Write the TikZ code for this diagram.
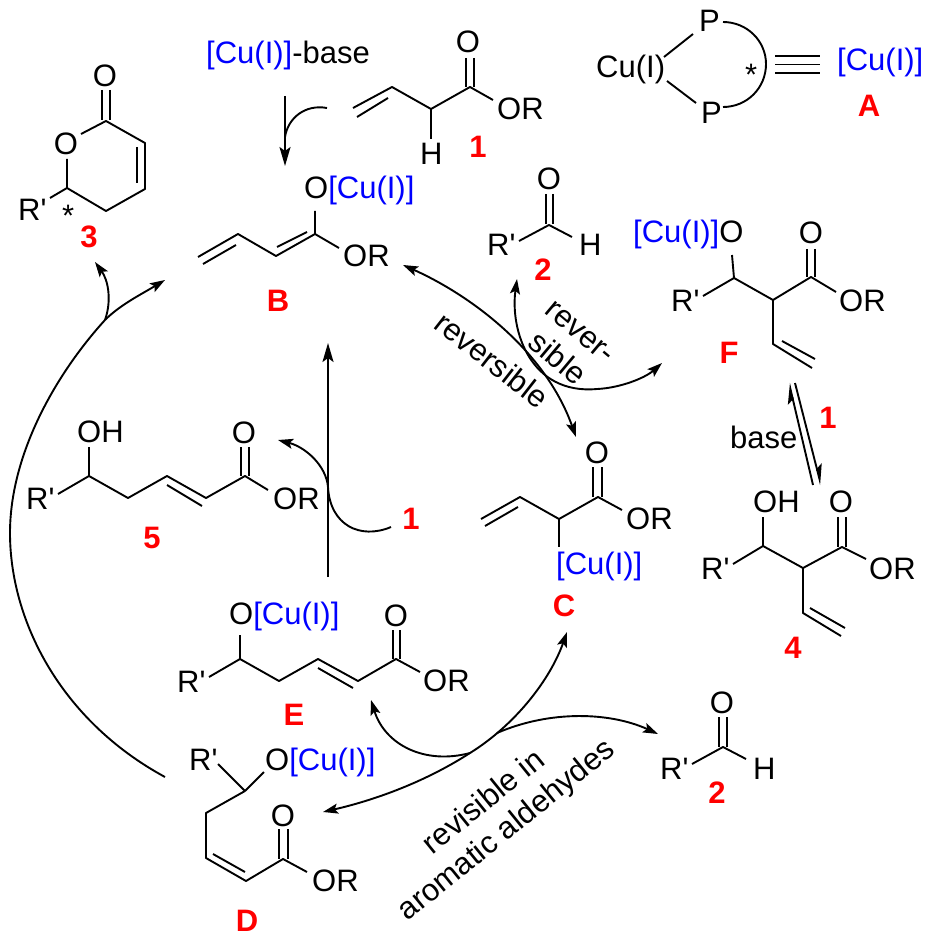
\documentclass[tikz,border=0pt]{standalone}
\usepackage{fontspec}
\usepackage{xcolor}
\usetikzlibrary{arrows.meta}
\newfontfamily\chemfont{Liberation Sans}
\newcommand{\CuL}{\textcolor{blue}{[Cu(I)]}}
\begin{document}
\begin{tikzpicture}[
    x=1pt, y=-1pt,
    % ---------- estilos ----------
    atom/.style={font=\chemfont\fontsize{31}{36}\selectfont, inner sep=0pt, anchor=base west},
    atomc/.style={atom, anchor=base},
    tag/.style={atomc, font=\chemfont\bfseries\fontsize{31}{36}\selectfont, text=red},
    note/.style={atom, anchor=center, align=center},
    bond/.style={line width=1.9pt, line join=round},
    arr/.style={-{Stealth[length=15pt,width=10pt,inset=3pt]}, line width=1.9pt},
    dblarr/.style={{Stealth[length=15pt,width=10pt,inset=3pt]}-{Stealth[length=15pt,width=10pt,inset=3pt]}, line width=1.9pt},
    bigarr/.style={-{Stealth[length=19pt,width=11pt,inset=4pt]}, line width=2.1pt},
    eqarr/.style={-{Stealth[harpoon,length=18pt,width=12pt,inset=4pt]}, line width=1.9pt}
]
\useasboundingbox (0,0) rectangle (932,949);

% ====== Compuesto 3 ======
\node[atomc] (o3a) at (105,87) {O};
\node[atomc] (o3b) at (66,155) {O};
\node[atom] (r3) at (18,221) {R'};
\node[atom] (star3) at (62,227) {*};
\node[tag] (tag3) at (89,248) {3};
\draw[bond] (102,90) -- (102,120) (110,90) -- (110,120);
\draw[bond] (81,134) -- (106,121) -- (145,143) -- (145,189) -- (106,211) -- (67,188) -- (67,159);
\draw[bond] (137,147) -- (137,183);
\draw[bond] (67,188) -- (50,198);

% ====== Base y compuesto 1 ======
\node[atom] (base1) at (206,64) {\CuL-base};
\node[atomc] (o1) at (468,53) {O};
\node[atom] (h1) at (420,165) {H};
\node[atom] (or1) at (497,120) {OR};
\node[tag] (tag1) at (478,158) {1};
\draw[bond] (353,108) -- (392,87) -- (431,109) -- (470,87) -- (493,100);
\draw[bond] (357,117) -- (388,98);
\draw[bond] (431,109) -- (431,139);
\draw[bond] (466,58) -- (466,87) (474,58) -- (474,87);
\coordinate (topS) at (285,96);
\coordinate (topE) at (285,166);
\coordinate (base1S) at (327,108);
\draw[bigarr] (topS) -- (topE);
\draw[bond] (base1S) .. controls (305,104) and (288,118) .. (285,137);

% ====== Ligando A ======
\node[atom] (cuA) at (596,78) {Cu(I)};
\node[atom] (p1) at (699,32) {P};
\node[atom] (p2) at (701,124) {P};
\node[atom] (starA) at (745,86) {*};
\node[atom] (cuEq) at (837,71) {\CuL};
\node[tag] (tagA) at (869,117) {A};
\draw[bond] (664,57) -- (693,34);
\draw[bond] (667,81) -- (696,103);
\draw[bond] (723,22) .. controls (747,22) and (766,41) .. (766,64) .. controls (766,88) and (747,107) .. (723,107);
\foreach \y in {56,64.5,73} {
    \draw[bond] (775,\y) -- (820,\y);
}

% ====== Compuesto B ======
\node[atom] (oB) at (304,199) {O\CuL};
\node[atom] (orB) at (343,267) {OR};
\node[tag] (tagB) at (278,311) {B};
\draw[bond] (315,211) -- (315,234) -- (276,256) -- (238,234) -- (198,257);
\draw[bond] (307,232) -- (277,247);
\draw[bond] (236,245) -- (203,264);
\draw[bond] (315,234) -- (339,248);

% ====== Compuesto 2 (arriba) ======
\node[atomc] (o2a) at (549,190) {O};
\node[atom] (r2a) at (487,256) {R'};
\node[atom] (h2a) at (579,256) {H};
\node[tag] (tag2a) at (543,280) {2};
\draw[bond] (519,241) -- (549,225) -- (572,237);
\draw[bond] (546,194) -- (546,224) (553,194) -- (553,224);

% ====== Compuesto F ======
\node[atom] (oF) at (633,243) {\CuL O};
\node[atomc] (o2F) at (811,244) {O};
\node[atom] (rF) at (671,311) {R'};
\node[atom] (orF) at (839,311) {OR};
\node[tag] (tagF) at (729,363) {F};
\draw[bond] (732,255) -- (734,278) -- (773,300) -- (811,277) -- (836,292);
\draw[bond] (734,278) -- (703,296);
\draw[bond] (807,249) -- (807,277) (815,249) -- (815,277);
\draw[bond] (773,300) -- (773,344) -- (812,368);
\draw[bond] (782,341) -- (815,359);

% ====== Equilibrio F / 4 ======
\node[atom] (baseEq) at (730,448) {base};
\node[tag] (tag1b) at (828,428) {1};
\coordinate (eqUpS) at (813,485);
\coordinate (eqUpE) at (789,383);
\coordinate (eqDnS) at (795,383);
\coordinate (eqDnE) at (821,485);
\draw[eqarr] (eqUpS) -- (eqUpE);
\draw[eqarr] (eqDnS) -- (eqDnE);

% ====== Compuesto 4 ======
\node[atom] (oh4) at (753,512) {OH};
\node[atomc] (o4) at (841,512) {O};
\node[atom] (r4) at (701,579) {R'};
\node[atom] (or4) at (869,579) {OR};
\node[tag] (tag4) at (793,658) {4};
\draw[bond] (763,517) -- (763,546) -- (803,568) -- (842,547) -- (866,559);
\draw[bond] (763,546) -- (733,564);
\draw[bond] (838,517) -- (838,547) (846,517) -- (846,547);
\draw[bond] (803,568) -- (803,613) -- (841,636);
\draw[bond] (810,608) -- (845,628);

% ====== Compuesto C ======
\node[atomc] (oC) at (597,463) {O};
\node[atom] (orC) at (626,529) {OR};
\node[atom] (cuC) at (556,574) {\CuL};
\node[tag] (tagC) at (564,616) {C};
\draw[bond] (481,519) -- (520,497) -- (559,519) -- (598,497) -- (622,510);
\draw[bond] (485,526) -- (518,507);
\draw[bond] (593,467) -- (593,497) (602,467) -- (602,497);
\draw[bond] (559,519) -- (559,547);

% ====== Compuesto 5 ======
\node[atom] (oh5) at (77,442) {OH};
\node[atomc] (o5) at (244,443) {O};
\node[atom] (r5) at (26,509) {R'};
\node[atom] (or5) at (273,509) {OR};
\node[tag] (tag5) at (152,548) {5};
\node[tag] (tag1c) at (411,529) {1};
\draw[bond] (89,447) -- (89,476) -- (128,498) -- (167,476) -- (206,498) -- (245,476) -- (268,490);
\draw[bond] (89,476) -- (58,494);
\draw[bond] (167,485) -- (202,506);
\draw[bond] (241,447) -- (241,476) (249,447) -- (249,476);

% ====== Compuesto E ======
\node[atom] (oE) at (229,624) {O\CuL};
\node[atomc] (o2E) at (396,626) {O};
\node[atom] (rE) at (177,692) {R'};
\node[atom] (orE) at (423,691) {OR};
\node[tag] (tagE) at (294,725) {E};
\draw[bond] (240,635) -- (240,659) -- (279,681) -- (318,659) -- (358,681) -- (396,659) -- (420,672);
\draw[bond] (240,659) -- (209,677);
\draw[bond] (318,668) -- (353,688);
\draw[bond] (393,630) -- (393,659) (400,630) -- (400,659);

% ====== Compuesto D ======
\node[atom] (rD) at (189,770) {R'};
\node[atom] (oD) at (265,770) {O\CuL};
\node[atomc] (o2D) at (283,826) {O};
\node[atom] (orD) at (312,891) {OR};
\node[tag] (tagD) at (247,931) {D};
\draw[bond] (218,764) -- (245,791) -- (264,772);
\draw[bond] (245,791) -- (206,813) -- (206,858) -- (246,881) -- (283,859) -- (307,872);
\draw[bond] (213,854) -- (245,872);
\draw[bond] (279,829) -- (279,859) (288,829) -- (288,859);

% ====== Compuesto 2 (abajo) ======
\node[atomc] (o2b) at (722,713) {O};
\node[atom] (r2b) at (660,779) {R'};
\node[atom] (h2b) at (753,779) {H};
\node[tag] (tag2b) at (717,803) {2};
\draw[bond] (692,764) -- (723,747) -- (746,759);
\draw[bond] (719,717) -- (719,747) (727,717) -- (727,747);

% ====== Textos girados ======
\node[note, rotate=-38] (revBC) at (492,360) {reversible};
\node[note, rotate=-40] (revF) at (568,346) {rever-\\sible};
\node[note, rotate=39] (revAr) at (496,817) {revisible in\\aromatic aldehydes};

% ====== Flechas del ciclo ======
\coordinate (dTail) at (165,777);
\coordinate (fork3) at (105,320);
\coordinate (to3) at (95,262);
\coordinate (toB) at (165,280);
\draw[bond] (dTail) .. controls (60,720) and (10,620) .. (10,533) .. controls (10,455) and (55,375) .. (fork3);
\draw[arr] (fork3) .. controls (120,305) and (140,295) .. (toB);
\draw[arr] (fork3) .. controls (112,300) and (108,280) .. (to3);

\coordinate (eTail) at (328,577);
\coordinate (bTip) at (328,343);
\draw[bigarr] (eTail) -- (bTip);

\coordinate (one5) at (391,527);
\coordinate (to5) at (278,440);
\draw[arr] (one5) .. controls (360,540) and (330,525) .. (328,487) .. controls (326,465) and (305,447) .. (to5);

\coordinate (atB) at (403,265);
\coordinate (atC) at (576,437);
\draw[dblarr] (atB) .. controls (470,295) and (545,350) .. (atC);

\coordinate (to2a) at (517,279);
\coordinate (toF) at (662,363);
\draw[dblarr] (to2a) .. controls (510,330) and (530,395) .. (597,389) .. controls (620,388) and (645,378) .. (toF);

\coordinate (forkR) at (470,753);
\coordinate (forkS) at (497,733);
\coordinate (toC) at (567,632);
\coordinate (toD) at (323,812);
\coordinate (toE) at (371,700);
\coordinate (to2b) at (658,734);
\draw[dblarr] (toD) .. controls (375,800) and (425,782) .. (forkR) .. controls (515,725) and (550,680) .. (toC);
\draw[arr] (forkR) .. controls (425,765) and (385,745) .. (toE);
\draw[arr] (forkS) .. controls (550,710) and (610,712) .. (to2b);

\end{tikzpicture}
\end{document}
